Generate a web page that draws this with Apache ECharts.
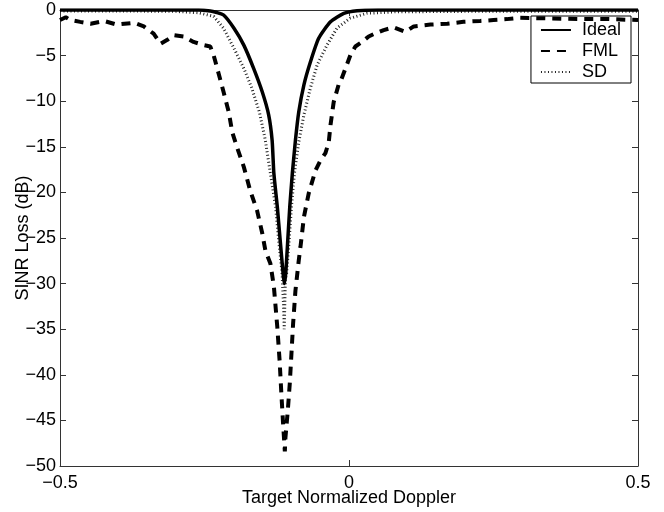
<!DOCTYPE html>
<html>
<head>
<meta charset="utf-8">
<script src="https://cdn.jsdelivr.net/npm/echarts@6/dist/echarts.min.js"></script>
<style>
html,body{margin:0;padding:0;background:#fff;}
#c{width:664px;height:512px;}
</style>
</head>
<body>
<div id="c"></div>
<script>
// ---- data ----
const xTicks = [-0.5, 0, 0.5];
const yTicks = [0, -5, -10, -15, -20, -25, -30, -35, -40, -45, -50];

const idealX = [-0.5, -0.3, -0.26, -0.24, -0.23, -0.217, -0.199, -0.182, -0.165, -0.150, -0.139, -0.133, -0.130, -0.124, -0.119, -0.114, -0.112, -0.1095, -0.106, -0.1025, -0.098, -0.0927, -0.087, -0.078, -0.0668, -0.0524, -0.032, -0.009, 0.014, 0.05, 0.5];
const idealY = [0, 0, 0, -0.1, -0.25, -0.55, -2.0, -3.85, -6.4, -9.0, -11.5, -14.3, -17.9, -21.6, -25.3, -28.9, -30, -28.9, -25.3, -21.6, -17.9, -14.3, -11.2, -8.2, -5.7, -3.1, -1.3, -0.36, -0.07, -0.01, 0];

const fmlX = [-0.5, -0.49, -0.482, -0.465, -0.447, -0.424, -0.402, -0.372, -0.355, -0.338, -0.326, -0.315, -0.303, -0.286, -0.269, -0.251, -0.24, -0.234, -0.225, -0.217, -0.208, -0.202, -0.194, -0.182, -0.171, -0.159, -0.150, -0.1446, -0.136, -0.130, -0.124, -0.120, -0.117, -0.114, -0.111, -0.110, -0.106, -0.1025, -0.0996, -0.0967, -0.0927, -0.087, -0.084, -0.078, -0.0697, -0.058, -0.0495, -0.0408, -0.035, -0.032, -0.0265, -0.018, -0.015, -0.006, 0.0024, 0.011, 0.0227, 0.034, 0.0457, 0.060, 0.077, 0.0975, 0.112, 0.141, 0.170, 0.198, 0.227, 0.250, 0.273, 0.296, 0.33, 0.4, 0.45, 0.5];
const fmlY = [-1.1, -0.8, -1.1, -1.3, -1.5, -1.2, -1.6, -1.4, -1.8, -2.6, -3.7, -3.3, -2.75, -2.9, -3.5, -3.85, -4.0, -5.0, -7.1, -9.0, -11.2, -13.4, -15.0, -17.2, -19.8, -22, -24.5, -26.4, -27.8, -30.3, -34.8, -38.5, -42.1, -45.4, -48.4, -46.9, -44, -41, -37.7, -34.4, -30.8, -27.5, -26, -22.7, -20.1, -17.6, -16.5, -15.7, -14.5, -12.6, -10.1, -8.2, -7.9, -6.4, -4.95, -4.0, -3.5, -2.9, -2.56, -2.2, -1.9, -2.4, -1.8, -1.6, -1.5, -1.3, -1.2, -1.1, -1.0, -0.85, -0.9, -1.0, -1.0, -1.1];

const sdX = [-0.5, -0.4, -0.3, -0.26, -0.234, -0.217, -0.199, -0.182, -0.168, -0.155, -0.145, -0.136, -0.127, -0.1216, -0.1157, -0.1135, -0.112, -0.111, -0.110, -0.108, -0.1036, -0.0996, -0.0944, -0.087, -0.078, -0.067, -0.055, -0.038, -0.021, 0.002, 0.031, 0.08, 0.2, 0.5];
const sdY = [-0.1, -0.1, -0.15, -0.3, -0.7, -2.0, -4.2, -6.4, -8.6, -11.2, -14.2, -17.9, -21.6, -25.3, -28.9, -32, -35, -32, -29.5, -28.9, -25.3, -21.6, -17.9, -14.5, -11.5, -8.6, -6.0, -3.85, -2.0, -0.9, -0.36, -0.2, -0.15, -0.15];

const seriesNames = ['Ideal', 'FML', 'SD'];
const xName = 'Target Normalized Doppler';
const yName = 'SINR Loss (dB)';

function pairs(xs, ys) { return xs.map((x, i) => [x, ys[i]]); }
function fmt(v) { return String(v).replace('-', '\u2212'); }

const FONT = 'Liberation Sans, Arial, Helvetica, sans-serif';
const FS = 18;
const axisColor = '#333';

const chart = echarts.init(document.getElementById('c'), null, { renderer: 'canvas' });
chart.setOption({
  animation: false,
  backgroundColor: '#fff',
  grid: { left: 60, right: 26, top: 10, bottom: 46, containLabel: false },
  legend: {
    orient: 'vertical',
    right: 33,
    top: 16,
    align: 'left',
    backgroundColor: '#fff',
    borderColor: '#000',
    borderWidth: 1,
    borderRadius: 0,
    padding: [5, 10, 2, 9],
    itemWidth: 30,
    itemHeight: 14,
    itemGap: 3,
    selectedMode: false,
    itemStyle: { opacity: 0, borderWidth: 0 },
    textStyle: { fontFamily: FONT, fontSize: FS, color: '#000', padding: [0, 0, 0, 6], lineHeight: 18 },
    data: seriesNames
  },
  xAxis: [{
    type: 'value', min: xTicks[0], max: xTicks[xTicks.length - 1], interval: 0.5,
    position: 'bottom',
    name: xName, nameLocation: 'middle', nameGap: 23, nameMoveOverlap: false,
    nameTextStyle: { fontFamily: FONT, fontSize: FS, color: '#000' },
    axisLine: { show: true, onZero: false, lineStyle: { color: axisColor, width: 1 } },
    axisTick: { show: true, inside: true, length: 6, lineStyle: { color: axisColor } },
    axisLabel: { fontFamily: FONT, fontSize: FS, color: '#000', margin: 8, formatter: fmt },
    splitLine: { show: false }
  }, {
    type: 'value', min: xTicks[0], max: xTicks[xTicks.length - 1], interval: 0.5,
    position: 'top',
    axisLine: { show: true, onZero: false, lineStyle: { color: axisColor, width: 1 } },
    axisTick: { show: true, inside: true, length: 6, lineStyle: { color: axisColor } },
    axisLabel: { show: false },
    splitLine: { show: false }
  }],
  yAxis: [{
    type: 'value', min: yTicks[yTicks.length - 1], max: yTicks[0], interval: 5,
    position: 'left',
    name: yName, nameLocation: 'middle', nameGap: 28, nameRotate: 90, nameMoveOverlap: false,
    nameTextStyle: { fontFamily: FONT, fontSize: FS, color: '#000' },
    axisLine: { show: true, onZero: false, lineStyle: { color: axisColor, width: 1 } },
    axisTick: { show: true, inside: true, length: 6, lineStyle: { color: axisColor } },
    axisLabel: { fontFamily: FONT, fontSize: FS, color: '#000', margin: 4, formatter: fmt },
    splitLine: { show: false }
  }, {
    type: 'value', min: yTicks[yTicks.length - 1], max: yTicks[0], interval: 5,
    position: 'right',
    axisLine: { show: true, onZero: false, lineStyle: { color: axisColor, width: 1 } },
    axisTick: { show: true, inside: true, length: 6, lineStyle: { color: axisColor } },
    axisLabel: { show: false },
    splitLine: { show: false }
  }],
  series: [
    {
      name: seriesNames[2], type: 'line', data: pairs(sdX, sdY),
      symbol: 'none', z: 3,
      lineStyle: { color: '#222', width: 3, type: [1, 2.5], cap: 'butt' },
      itemStyle: { color: '#222' }
    },
    {
      name: seriesNames[1], type: 'line', data: pairs(fmlX, fmlY),
      symbol: 'none', z: 4,
      lineStyle: { color: '#000', width: 4, type: [9, 7], cap: 'butt' },
      itemStyle: { color: '#000' }
    },
    {
      name: seriesNames[0], type: 'line', data: pairs(idealX, idealY),
      symbol: 'none', z: 5, smooth: 0.2,
      lineStyle: { color: '#000', width: 3.5 },
      itemStyle: { color: '#000' }
    }
  ]
});
</script>
</body>
</html>
